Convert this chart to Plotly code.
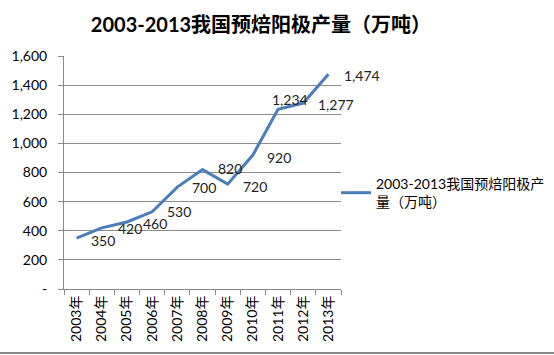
import plotly.graph_objects as go

years = ["2003年", "2004年", "2005年", "2006年", "2007年", "2008年",
         "2009年", "2010年", "2011年", "2012年", "2013年"]
output = [350, 420, 460, 530, 700, 820, 720, 920, 1234, 1277, 1474]
label_text = ["350", "420", "460", "530", "700", "820", "720", "920", "1,234", "1,277", "1,474"]
y_tickvals = [0, 200, 400, 600, 800, 1000, 1200, 1400, 1600]
y_ticktext = ["-", "200", "400", "600", "800", "1,000", "1,200", "1,400", "1,600"]
legend_name = "2003-2013我国预焙阳极产<br>量（万吨）"
title_text = "<b>2003-2013我国预焙阳极产量（万吨）</b>"

# label offsets (style only)
lab_dx = [26, 28, 28, 27, 27, 27, 27, 26, 12, 33, 34]
lab_dy = [-2, -1, -1, 0, 0, 1, -2, -2, 10, -1, -1]

FONT = "Lato, 'Noto Sans CJK SC', sans-serif"
L, R, T, B = 64, 213, 56, 66
W, H = 554, 355
pw, ph = W - L - R, H - T - B

fig = go.Figure()
fig.add_trace(go.Scatter(
    x=years, y=output, mode="lines", name=legend_name,
    line=dict(color="#4A7EBB", width=3), showlegend=True,
))

for xi, yi, t, dx, dy in zip(years, output, label_text, lab_dx, lab_dy):
    fig.add_annotation(x=xi, y=yi, text=t, showarrow=False,
                       xshift=dx, yshift=dy,
                       font=dict(family=FONT, size=14, color="#222"))

fig.add_shape(type="line", xref="paper", yref="paper",
              x0=-L / pw, x1=(W - L) / pw, y0=-(353 - 289) / ph, y1=-(353 - 289) / ph,
              line=dict(color="#888", width=2))

fig.update_layout(
    width=W, height=H,
    margin=dict(l=L, r=R, t=T, b=B, autoexpand=False),
    paper_bgcolor="white", plot_bgcolor="white",
    title=dict(text=title_text, x=261 / W, xref="container", xanchor="center",
               y=1 - 25 / H, yref="container", yanchor="middle",
               font=dict(family=FONT, size=20, color="black")),
    font=dict(family=FONT, size=13, color="black"),
    legend=dict(x=(336 - 64) / pw, y=(289 - 193) / ph, xanchor="left", yanchor="middle",
                font=dict(family=FONT, size=14, color="black"),
                bgcolor="rgba(0,0,0,0)", itemwidth=30, tracegroupgap=0),
    showlegend=True,
)

fig.update_xaxes(
    type="category", tickangle=-90, tickson="boundaries",
    ticks="outside", ticklen=5, tickcolor="#888",
    showline=True, linecolor="#888", linewidth=1,
    showgrid=False, tickfont=dict(family=FONT, size=14, color="black"),
    range=[-0.5, 10.5], automargin=False,
)
fig.update_yaxes(
    range=[0, 1600], tickvals=y_tickvals, ticktext=y_ticktext,
    ticks="outside", ticklen=5, tickcolor="#888",
    showline=True, linecolor="#888", linewidth=1,
    showgrid=True, gridcolor="#8c8c8c", gridwidth=1,
    zeroline=False, automargin=False,
    tickfont=dict(family=FONT, size=14, color="black"),
    ticklabelstandoff=8,
)

fig.write_html("out.html", config={"displayModeBar": False},
               post_script="document.body.style.margin='0';")
